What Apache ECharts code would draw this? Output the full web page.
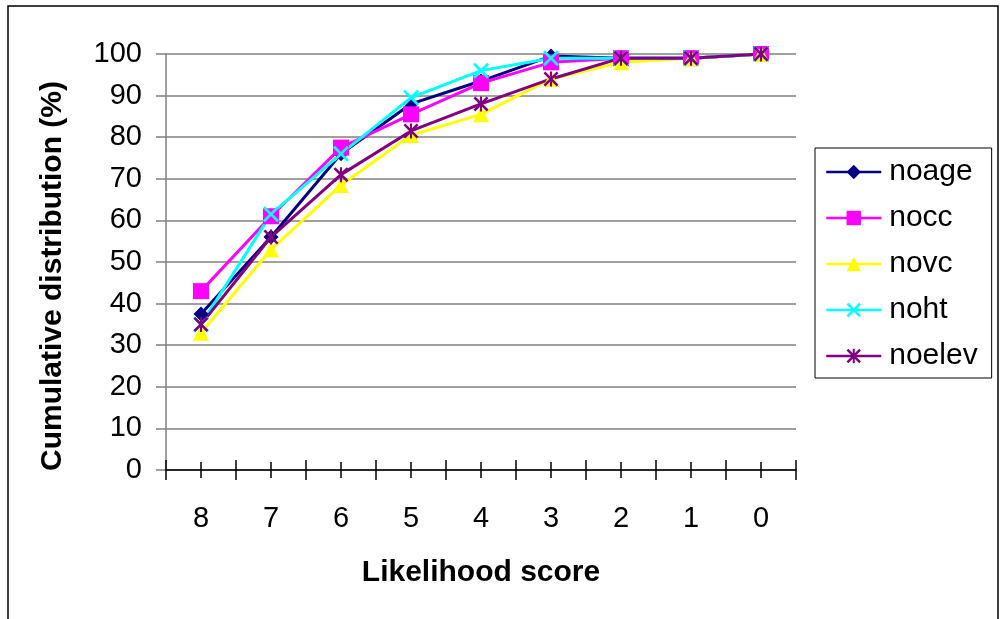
<!DOCTYPE html>
<html>
<head>
<meta charset="utf-8">
<script src="https://cdn.jsdelivr.net/npm/echarts@6/dist/echarts.min.js"></script>
<style>
html,body{margin:0;padding:0;background:#fff;}
#chart{width:1002px;height:619px;}
</style>
</head>
<body>
<div id="chart"></div>
<script>
const categories = ['8', '7', '6', '5', '4', '3', '2', '1', '0'];
const noage  = [37.5, 56, 76, 88, 93.5, 99.5, 99, 99, 100];
const nocc   = [43, 61, 77.5, 85.5, 93, 98, 99, 99, 100];
const novc   = [33, 53, 68.5, 80.5, 85.5, 94, 98, 99, 100];
const noht   = [35, 61.5, 76, 89.5, 96, 99, 99, 99, 100];
const noelev = [35, 56, 71, 81.5, 88, 94, 99, 99, 100];
const yTicks = {min: 0, max: 100, interval: 10};
const xTitle = 'Likelihood score';
const yTitle = 'Cumulative distribution (%)';

const FONT = '"Liberation Sans", Arial, sans-serif';
const X_PATH = 'path://M0,1.2 L1.2,0 L5,3.8 L8.8,0 L10,1.2 L6.2,5 L10,8.8 L8.8,10 L5,6.2 L1.2,10 L0,8.8 L3.8,5 Z';
const STAR_PATH = 'path://M0,1.2 L1.2,0 L5,3.8 L8.8,0 L10,1.2 L6.2,5 L10,8.8 L8.8,10 L5,6.2 L1.2,10 L0,8.8 L3.8,5 Z M4.3,0 L5.7,0 L5.7,10 L4.3,10 Z';

function mk(name, data, color, symbol, size) {
  return {
    name: name, type: 'line', data: data, xAxisIndex: 0,
    symbol: symbol, symbolSize: size,
    lineStyle: {color: color, width: 3},
    itemStyle: {color: color},
    emphasis: {disabled: true},
    animation: false
  };
}

const chart = echarts.init(document.getElementById('chart'), null, {renderer: 'canvas'});
const grid = {left: 166, right: 206, top: 54, bottom: 149};
const baseX = {
  type: 'category', data: categories, boundaryGap: true, position: 'bottom',
  axisLine: {show: false}, axisLabel: {show: false}, splitLine: {show: false}
};
chart.setOption({
  backgroundColor: '#ffffff',
  animation: false,
  textStyle: {fontFamily: FONT},
  grid: grid,
  graphic: [{
    type: 'rect', shape: {x: 8, y: 6, width: 990, height: 650},
    style: {fill: 'none', stroke: '#000', lineWidth: 1.5}, silent: true, z: -1
  }],
  legend: {
    orient: 'vertical', left: 815, top: 148,
    padding: [7, 14, 5, 10],
    borderColor: '#000', borderWidth: 1,
    itemWidth: 55, itemHeight: 18, itemGap: 12,
    lineStyle: {width: 2.5},
    textStyle: {fontSize: 30, color: '#000', fontFamily: FONT, lineHeight: 34, padding: [0, 0, 0, 3]},
    data: ['noage', 'nocc', 'novc', 'noht', 'noelev']
  },
  xAxis: [
    {
      type: 'category', data: categories, boundaryGap: true, position: 'bottom',
      axisLine: {show: true, lineStyle: {color: '#000', width: 1.5}},
      axisTick: {show: true, interval: 0, length: 10, lineStyle: {color: '#000', width: 1.5}},
      axisLabel: {show: true, interval: 0, fontSize: 29, color: '#000', margin: 34, fontFamily: FONT},
      splitLine: {show: false},
      name: xTitle, nameLocation: 'middle', nameGap: 88,
      nameTextStyle: {fontSize: 30, fontWeight: 'bold', color: '#000', fontFamily: FONT}
    },
    Object.assign({}, baseX, {axisTick: {show: true, inside: true, interval: 0, length: 10, lineStyle: {color: '#000', width: 1.5}}}),
    Object.assign({}, baseX, {axisTick: {show: true, alignWithLabel: true, interval: 0, length: 8, lineStyle: {color: '#000', width: 1.5}}}),
    Object.assign({}, baseX, {axisTick: {show: true, inside: true, alignWithLabel: true, interval: 0, length: 8, lineStyle: {color: '#000', width: 1.5}}})
  ],
  yAxis: {
    type: 'value', min: yTicks.min, max: yTicks.max, interval: yTicks.interval,
    axisLine: {show: true, lineStyle: {color: '#808080', width: 1.5}},
    axisTick: {show: true, length: 10, lineStyle: {color: '#808080', width: 1.5}},
    axisLabel: {fontSize: 29, color: '#000', margin: 24, fontFamily: FONT},
    splitLine: {show: true, lineStyle: {color: '#808080', width: 1.5}},
    name: yTitle, nameLocation: 'middle', nameGap: 98,
    nameTextStyle: {fontSize: 30, fontWeight: 'bold', color: '#000', fontFamily: FONT, padding: [0, 28, 0, 0]}
  },
  series: [
    mk('noage', noage, '#000080', 'diamond', 15),
    mk('nocc', nocc, '#FF00FF', 'rect', 16),
    mk('novc', novc, '#FFFF00', 'triangle', 16),
    mk('noht', noht, '#00FFFF', X_PATH, 16),
    mk('noelev', noelev, '#800080', STAR_PATH, 15)
  ]
});
</script>
</body>
</html>
